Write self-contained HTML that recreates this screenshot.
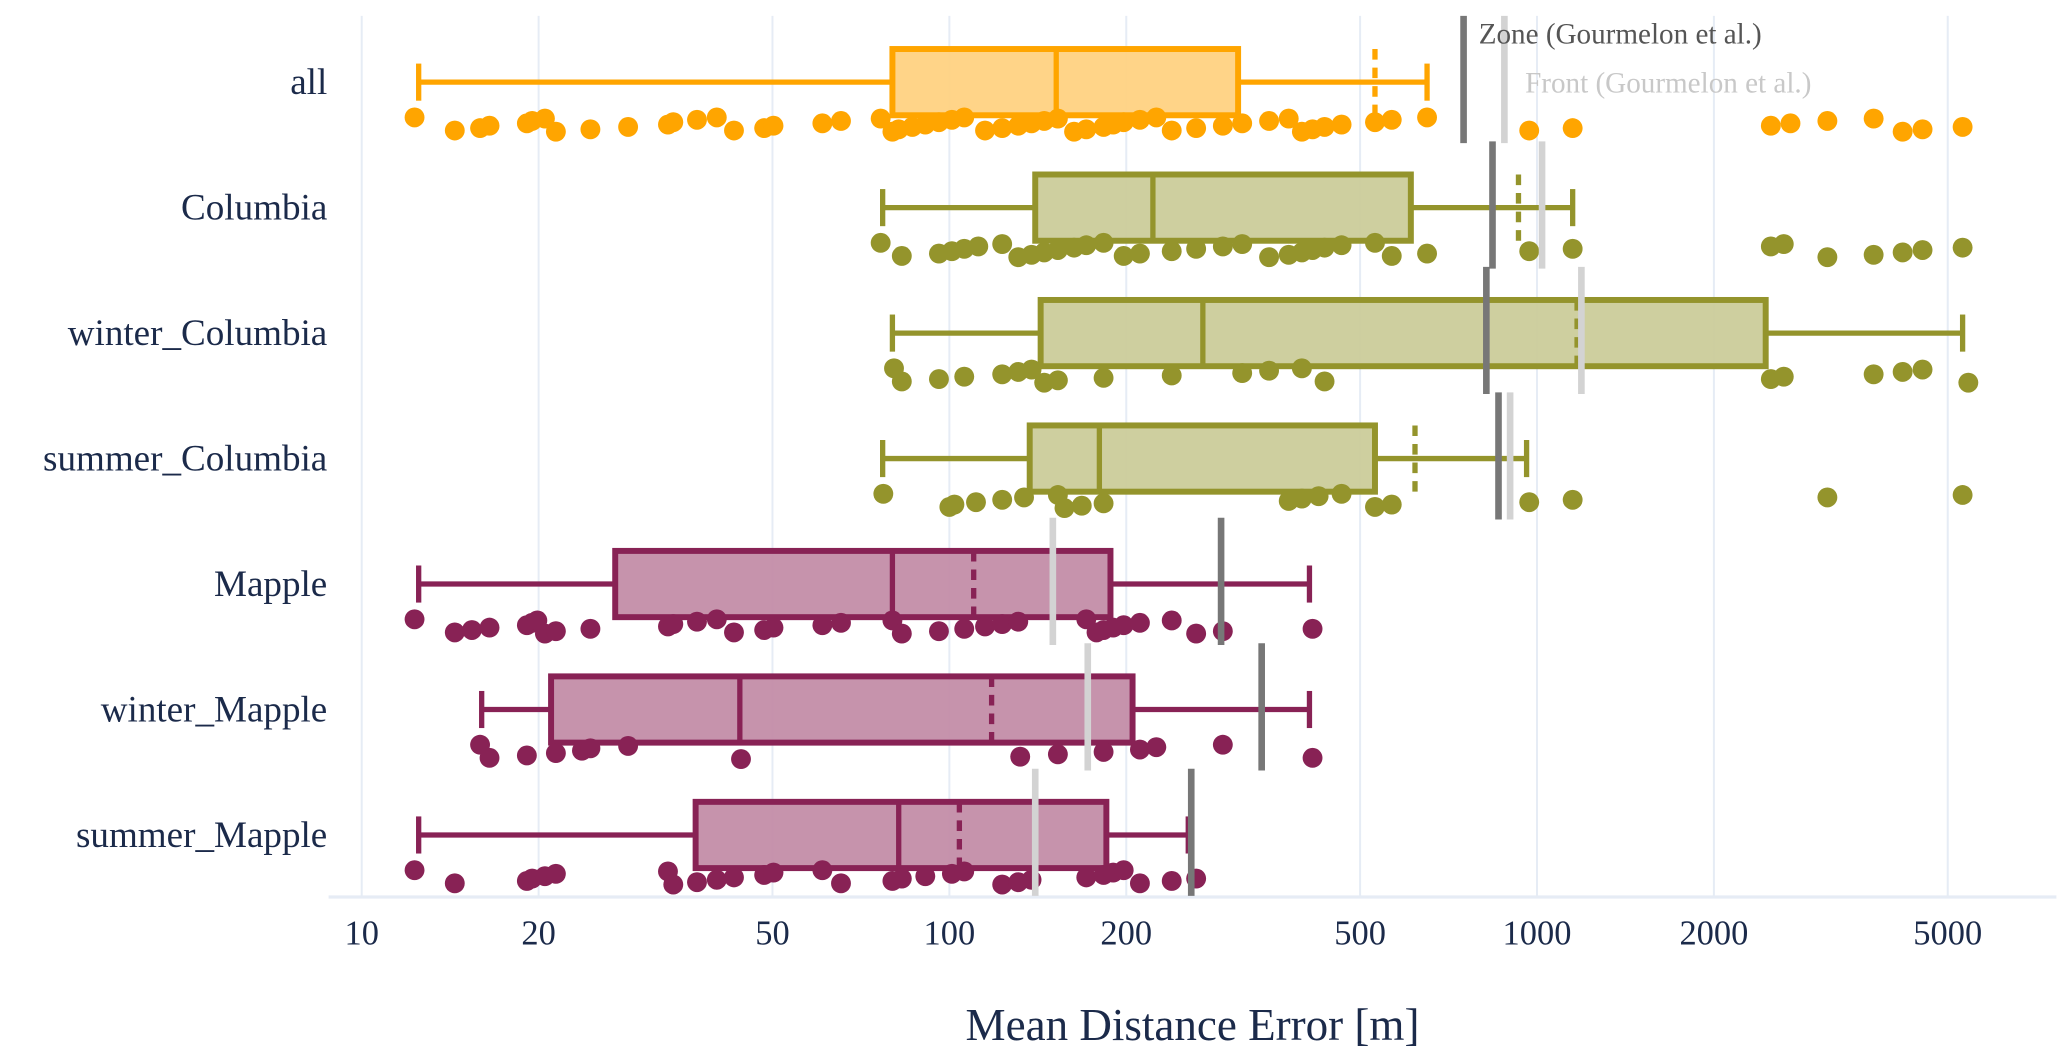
<!DOCTYPE html>
<html><head><meta charset="utf-8"><style>
html,body{margin:0;padding:0;background:#fff;}
svg{display:block;}
text{font-family:"Liberation Serif",serif;}
</style></head><body>
<svg id="chart" width="2067" height="1063" viewBox="0 0 1560 802.3" preserveAspectRatio="none" xmlns="http://www.w3.org/2000/svg"></svg>
<script>
const categories=["all","Columbia","winter_Columbia","summer_Columbia","Mapple","winter_Mapple","summer_Mapple"];
const whiskerLow=[12.5,77,80,77,12.5,16,12.5];
const whiskerHigh=[650,1150,5300,960,410,410,255];
const q1=[80,140,143,137,27,21,37];
const medians=[152,222,270,180,80,44,82];
const q3=[310,610,2450,530,188,205,185];
const means=[530,930,1170,620,110,118,104];
const zoneVals=[750,840,820,860,290,340,258];
const frontVals=[880,1020,1190,900,150,172,140];
const tickVals=[10,20,50,100,200,500,1000,2000,5000];
const tickLabels=["10","20","50","100","200","500","1000","2000","5000"];
const pts0=[12.3,14.4,15.9,16.5,19.1,19.5,20.5,21.4,24.5,28.4,33.2,33.9,37.2,40.2,43,48.4,50.2,60.8,65.4,76.4,80,82,86.5,91,96,101,106,115,123,131,138,145,153,163,171,183,190,198,211,225,239,263,292,315,350,378,398,415,435,465,530,566,650,970,1150,2500,2700,3120,3740,4190,4530,5300];
const pts1=[76.4,83,96,101,106,112,123,131,138,145,153,163,171,183,198,211,239,263,292,315,350,378,398,415,435,465,530,566,650,970,1150,2500,2630,3120,3740,4190,4530,5300];
const pts2=[80.5,83,96,106,123,131,138,145,153,183,239,315,350,398,435,2500,2630,3740,4190,4530,5420];
const pts3=[77.2,100,102,111,123,134,153,157,168,183,378,398,425,465,530,566,970,1150,3120,5300];
const pts4=[12.3,14.4,15.4,16.5,19.1,19.5,19.9,20.5,21.4,24.5,33.2,33.9,37.2,40.2,43,48.4,50.2,60.8,65.4,80,83,96,106,115,123,131,171,178,183,190,198,211,239,263,292,415];
const pts5=[15.9,16.5,19.1,21.4,23.7,24.5,28.4,44.2,132,153,183,211,225,292,415];
const pts6=[12.3,14.4,19.1,19.5,20.5,21.4,33.2,33.9,37.2,40.2,43,48.4,50.2,60.8,65.4,80,83,91,101,106,123,131,138,171,183,190,198,211,239,263];
const points=[pts0,pts1,pts2,pts3,pts4,pts5,pts6];
const lineC=["#FFA500","#94942C","#94942C","#94942C","#882255","#882255","#882255"];
const fillC=["#FFD282","#CBCC9A","#CBCC9A","#CBCC9A","#C38DA8","#C38DA8","#C38DA8"];

const NS="http://www.w3.org/2000/svg";
const svg=document.getElementById("chart");
const X0=273,DEC=443.5,PL=248,PR=1552,PT=12,PB=677;
function x(v){return X0+(Math.log10(v)-1)*DEC;}
function y(i){return 62+i*94.7;}
function el(t,a,p){const e=document.createElementNS(NS,t);for(const k in a)e.setAttribute(k,a[k]);(p||svg).appendChild(e);return e;}

tickVals.forEach((v,i)=>{
  const g=el("line",{x1:x(v),x2:x(v),y1:PT,y2:PB,stroke:"#E6ECF5","stroke-width":1.5});
  
  
  const t=el("text",{x:x(v),y:713,"text-anchor":"middle","font-size":26,fill:"#1B2A4A"});
  t.textContent=tickLabels[i];
  
  
});
const ax=el("line",{x1:PL,x2:PR,y1:PB,y2:PB,stroke:"#E6ECF5","stroke-width":2.5});


const xt=el("text",{x:900,y:785,"text-anchor":"middle","font-size":34,fill:"#1B2A4A"});
xt.textContent="Mean Distance Error [m]";



categories.forEach((c,i)=>{
  const cy=y(i),col=lineC[i];
  const g=el("g",{});
  
  
  const lab=el("text",{x:247,y:cy+9,"text-anchor":"end","font-size":28,fill:"#1B2A4A"},g);
  lab.textContent=c;
  
  
  el("line",{x1:x(whiskerLow[i]),x2:x(q1[i]),y1:cy,y2:cy,stroke:col,"stroke-width":4},g);
  el("line",{x1:x(q3[i]),x2:x(whiskerHigh[i]),y1:cy,y2:cy,stroke:col,"stroke-width":4},g);
  el("line",{x1:x(whiskerLow[i]),x2:x(whiskerLow[i]),y1:cy-14,y2:cy+14,stroke:col,"stroke-width":4},g);
  el("line",{x1:x(whiskerHigh[i]),x2:x(whiskerHigh[i]),y1:cy-14,y2:cy+14,stroke:col,"stroke-width":4},g);
  el("rect",{x:x(q1[i]),y:cy-25,width:x(q3[i])-x(q1[i]),height:50,fill:fillC[i],"fill-opacity":0.95,stroke:col,"stroke-width":4.5},g);
  el("line",{x1:x(medians[i]),x2:x(medians[i]),y1:cy-25,y2:cy+25,stroke:col,"stroke-width":4},g);
  el("line",{x1:x(means[i]),x2:x(means[i]),y1:cy-25,y2:cy+25,stroke:col,"stroke-width":4,"stroke-dasharray":"8,6"},g);
  points[i].forEach((v,j)=>{
    const d=el("circle",{cx:x(v),cy:cy+32+((j*37)%13-6)*0.9,r:7.5,fill:col},g);
    
    
  });
  const z=el("line",{x1:x(zoneVals[i]),x2:x(zoneVals[i]),y1:cy-50,y2:cy+46,stroke:"#777","stroke-width":5});
  
  
  const f=el("line",{x1:x(frontVals[i]),x2:x(frontVals[i]),y1:cy-50,y2:cy+46,stroke:"#D3D3D3","stroke-width":5});
  
  
});
const l1=el("text",{x:1116,y:33,"font-size":22,fill:"#555"});
l1.textContent="Zone (Gourmelon et al.)";


const l2=el("text",{x:1151,y:70,"font-size":22,fill:"#C8C8C8"});
l2.textContent="Front (Gourmelon et al.)";


</script>
</body></html>
